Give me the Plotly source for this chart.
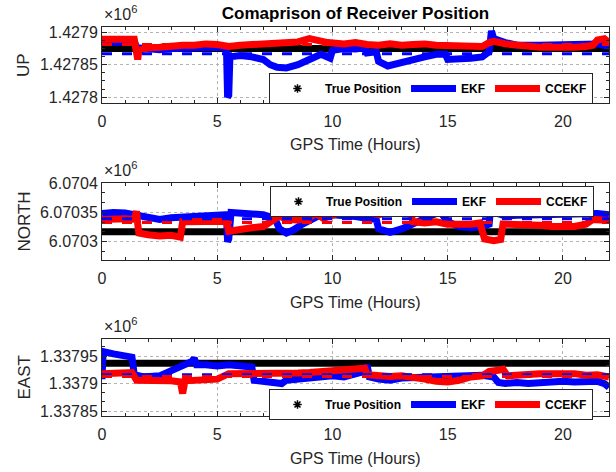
import plotly.graph_objects as go

# ---------------- data (GPS time in hours, positions in metres) ----------------
up_ekf_t = [0, 0.5, 1.0, 1.4, 1.5, 2.0, 2.5, 3.0, 3.5, 4.0, 4.5, 5.0, 5.4, 5.45, 5.5, 5.55,
            6.0, 6.5, 7.0, 7.3, 7.6, 8.0, 8.5, 9.0, 9.5, 9.9, 10.0, 10.5, 11.0, 11.4, 11.5,
            11.9, 12.0, 12.4, 12.8, 13.5, 14.0, 14.5, 14.9, 15.0, 15.5, 16.0, 16.5, 16.8,
            16.9, 17.0, 17.5, 18.0, 19.0, 20.0, 21.0, 21.5, 22.0]
up_ekf = [1427886, 1427884, 1427885, 1427886, 1427876, 1427874, 1427873, 1427875, 1427876,
          1427876, 1427877, 1427877, 1427876, 1427800, 1427803, 1427862, 1427864, 1427862,
          1427858, 1427850, 1427846, 1427845, 1427850, 1427858, 1427866, 1427860, 1427872,
          1427875, 1427874, 1427876, 1427868, 1427870, 1427855, 1427848, 1427852, 1427858,
          1427862, 1427866, 1427866, 1427858, 1427858, 1427860, 1427862, 1427870, 1427902,
          1427890, 1427884, 1427880, 1427880, 1427881, 1427880, 1427882, 1427878]

up_cc_t = [0, 0.5, 1.0, 1.4, 1.5, 1.55, 1.6, 2.0, 2.5, 3.0, 3.5, 4.0, 4.5, 5.0, 5.5, 6.0,
           6.5, 7.0, 7.5, 8.0, 8.5, 9.0, 9.3, 9.8, 10.5, 11.0, 11.5, 12.0, 12.5, 13.0, 13.5,
           14.0, 14.5, 15.0, 15.5, 16.0, 16.5, 16.8, 17.0, 17.5, 18.0, 18.5, 19.0, 19.5,
           20.0, 20.5, 21.0, 21.3, 21.5, 21.8, 22.0]
up_cc = [1427889, 1427888, 1427889, 1427889, 1427872, 1427858, 1427872, 1427876, 1427877,
         1427879, 1427880, 1427880, 1427882, 1427881, 1427878, 1427880, 1427881, 1427880,
         1427882, 1427883, 1427885, 1427890, 1427887, 1427884, 1427882, 1427884, 1427881,
         1427880, 1427882, 1427880, 1427881, 1427882, 1427880, 1427879, 1427878, 1427877,
         1427878, 1427884, 1427886, 1427882, 1427880, 1427879, 1427877, 1427877, 1427876,
         1427877, 1427878, 1427880, 1427888, 1427890, 1427884]

north_ekf_t = [0, 0.5, 1.0, 1.5, 2.0, 2.5, 3.0, 3.5, 4.0, 4.5, 5.0, 5.4, 5.45, 5.5, 5.6,
               6.0, 6.5, 7.0, 7.5, 7.7, 8.0, 8.3, 8.7, 9.0, 9.4, 9.5, 9.6, 10.0, 10.5, 11.0,
               11.5, 11.9, 12.0, 12.5, 13.0, 13.5, 14.0, 14.5, 14.6, 14.8, 15.0, 15.5, 16.0,
               16.5, 16.8, 16.85, 17.0, 17.5, 18.0, 19.0, 20.0, 21.0, 21.5, 22.0]
north_ekf = [6070348, 6070350, 6070349, 6070346, 6070341, 6070338, 6070341, 6070342,
             6070344, 6070345, 6070346, 6070346, 6070300, 6070305, 6070350, 6070349,
             6070347, 6070346, 6070340, 6070322, 6070315, 6070320, 6070330, 6070336,
             6070344, 6070352, 6070343, 6070346, 6070345, 6070343, 6070340, 6070338,
             6070322, 6070316, 6070322, 6070330, 6070338, 6070348, 6070355, 6070342,
             6070334, 6070326, 6070324, 6070326, 6070330, 6070352, 6070350, 6070344,
             6070345, 6070346, 6070345, 6070346, 6070348, 6070346]

north_cc_t = [0, 0.5, 1.0, 1.4, 1.5, 1.55, 1.6, 2.0, 2.5, 3.0, 3.4, 3.5, 4.0, 4.5, 5.0,
              5.4, 5.5, 6.0, 6.5, 7.0, 7.5, 7.7, 8.0, 8.5, 9.0, 9.3, 9.6, 10.0, 10.5, 11.0,
              11.5, 12.0, 12.5, 13.0, 13.4, 13.5, 14.0, 14.5, 15.0, 15.5, 16.0, 16.4, 16.6,
              17.0, 17.3, 17.4, 18.0, 18.5, 19.0, 19.5, 20.0, 20.5, 21.0, 21.3, 22.0]
north_cc = [6070338, 6070340, 6070339, 6070338, 6070352, 6070330, 6070315, 6070312,
            6070310, 6070311, 6070308, 6070334, 6070335, 6070336, 6070337, 6070335,
            6070318, 6070322, 6070324, 6070326, 6070340, 6070344, 6070338, 6070337,
            6070342, 6070348, 6070340, 6070346, 6070352, 6070349, 6070350, 6070346,
            6070348, 6070353, 6070346, 6070334, 6070332, 6070334, 6070330, 6070329,
            6070330, 6070332, 6070305, 6070302, 6070304, 6070330, 6070330, 6070329,
            6070328, 6070326, 6070325, 6070326, 6070330, 6070338, 6070336]

east_ekf_t = [0, 0.05, 0.5, 1.0, 1.3, 1.4, 1.8, 2.5, 3.0, 3.5, 3.9, 4.0, 4.1, 4.5, 5.0,
              5.5, 6.0, 6.5, 6.6, 7.0, 7.5, 7.8, 8.0, 8.5, 9.0, 9.5, 10.0, 10.5, 11.0,
              11.4, 11.5, 11.6, 12.0, 12.5, 13.0, 13.5, 14.0, 14.5, 15.0, 15.5, 16.0, 16.5,
              17.0, 17.2, 17.5, 18.0, 18.5, 19.0, 19.5, 20.0, 20.5, 21.0, 21.5, 21.8, 22.0]
east_ekf = [1337908, 1337958, 1337954, 1337952, 1337948, 1337916, 1337912, 1337914,
            1337924, 1337932, 1337940, 1337946, 1337934, 1337934, 1337932, 1337934,
            1337932, 1337930, 1337906, 1337904, 1337902, 1337900, 1337906, 1337908,
            1337910, 1337912, 1337914, 1337912, 1337916, 1337922, 1337934, 1337912,
            1337908, 1337906, 1337910, 1337911, 1337912, 1337914, 1337912, 1337914,
            1337916, 1337915, 1337912, 1337902, 1337900, 1337902, 1337900, 1337902,
            1337903, 1337904, 1337903, 1337904, 1337904, 1337900, 1337893]

east_cc_t = [0, 0.5, 1.0, 1.3, 1.5, 2.0, 2.5, 3.0, 3.4, 3.5, 3.6, 4.0, 4.5, 5.0, 5.5, 6.0,
             6.5, 7.0, 7.5, 8.0, 8.5, 9.0, 9.5, 10.0, 10.5, 11.0, 11.4, 11.5, 12.0, 12.5,
             13.0, 13.5, 14.0, 14.5, 15.0, 15.5, 16.0, 16.5, 16.8, 17.2, 17.4, 17.6, 18.0,
             18.5, 19.0, 19.5, 20.0, 20.5, 21.0, 21.5, 22.0]
east_cc = [1337918, 1337919, 1337918, 1337920, 1337906, 1337906, 1337907, 1337905,
           1337903, 1337882, 1337905, 1337906, 1337907, 1337908, 1337918, 1337918,
           1337916, 1337917, 1337918, 1337917, 1337919, 1337920, 1337922, 1337924,
           1337925, 1337927, 1337928, 1337916, 1337914, 1337913, 1337914, 1337912,
           1337908, 1337904, 1337903, 1337906, 1337912, 1337914, 1337922, 1337924,
           1337926, 1337914, 1337916, 1337917, 1337918, 1337918, 1337919, 1337918,
           1337915, 1337916, 1337912]

panel_names = ["UP", "NORTH", "EAST"]
true_position = [1427875, 6070317, 1337937]
ekf_mean = [1427867, 6070339, 1337916]
ccekf_mean = [1427881, 6070333, 1337913]
time_span = [0.0, 22.0]

y_tick_vals = [[1427800, 1427850, 1427900], [6070300, 6070350, 6070400],
               [1337850, 1337900, 1337950]]
y_tick_text = [["1.4278", "1.42785", "1.4279"], ["6.0703", "6.07035", "6.0704"],
               ["1.33785", "1.3379", "1.33795"]]
y_ranges = [[1427791, 1427908], [6070269, 6070400], [1337841, 1337981]]
y_minor_dtick = [12.5, 50 / 3, 50 / 3]
x_tick_vals = [0, 5, 10, 15, 20]

series_t = [(up_ekf_t, up_cc_t), (north_ekf_t, north_cc_t), (east_ekf_t, east_cc_t)]
series_v = [(up_ekf, up_cc), (north_ekf, north_cc), (east_ekf, east_cc)]

# ---------------- layout geometry (pixels -> paper) ----------------
W, H = 616, 472
x_dom = [102 / W, 609 / W]
panel_px = [(27, 103), (183, 260), (339, 416)]
legend_px = [(593, 73), (594, 186), (593, 389)]

FONT = "Liberation Sans, Arial, Helvetica, sans-serif"
AX = "#262626"

fig = go.Figure()
annotations = []
layout = dict(width=W, height=H, margin=dict(l=0, r=0, t=0, b=0, autoexpand=False),
              paper_bgcolor="white", plot_bgcolor="white", font=dict(family=FONT, color=AX),
              showlegend=True)

for i, name in enumerate(panel_names):
    sfx = "" if i == 0 else str(i + 1)
    xa, ya = "x" + sfx, "y" + sfx
    lg = "legend" + sfx
    top, bot = panel_px[i]
    dom = [1 - bot / H, 1 - top / H]

    # legend-only marker for True Position
    fig.add_trace(go.Scatter(x=[None], y=[None], mode="markers", name="True Position",
                             marker=dict(symbol="asterisk-open", size=7, color="black",
                                         line=dict(color="black", width=1.5)),
                             xaxis=xa, yaxis=ya, legend=lg))
    fig.add_trace(go.Scatter(x=time_span, y=[true_position[i]] * 2, mode="lines",
                             line=dict(color="black", width=7), showlegend=False,
                             xaxis=xa, yaxis=ya, hoverinfo="skip"))
    fig.add_trace(go.Scatter(x=series_t[i][0], y=series_v[i][0], mode="lines", name="EKF",
                             line=dict(color="#0000ff", width=7), xaxis=xa, yaxis=ya,
                             legend=lg))
    fig.add_trace(go.Scatter(x=series_t[i][1], y=series_v[i][1], mode="lines", name="CCEKF",
                             line=dict(color="#ff0000", width=7), xaxis=xa, yaxis=ya,
                             legend=lg))
    fig.add_trace(go.Scatter(x=time_span, y=[ekf_mean[i]] * 2, mode="lines",
                             line=dict(color="#0000ff", width=3, dash="10px,10px"),
                             showlegend=False, xaxis=xa, yaxis=ya))
    fig.add_trace(go.Scatter(x=time_span, y=[ccekf_mean[i]] * 2, mode="lines",
                             line=dict(color="#ff0000", width=3, dash="10px,10px"),
                             showlegend=False, xaxis=xa, yaxis=ya))

    common = dict(showline=True, linecolor=AX, linewidth=1, mirror="ticks",
                  ticks="inside", ticklen=5, tickcolor=AX, tickwidth=1, automargin=False,
                  showgrid=True, gridcolor="#b4b4b4", griddash="dot", gridwidth=1,
                  zeroline=False, tickfont=dict(family=FONT, size=16, color=AX))
    layout["xaxis" + sfx] = dict(common, domain=x_dom, anchor=ya, range=time_span,
                                 tickvals=x_tick_vals, ticklabelstandoff=4,
                                 minor=dict(dtick=1, tick0=0, ticks="inside", ticklen=3,
                                            tickcolor=AX, showgrid=False))
    layout["yaxis" + sfx] = dict(common, domain=dom, anchor=xa, range=y_ranges[i],
                                 tickvals=y_tick_vals[i], ticktext=y_tick_text[i],
                                 minor=dict(dtick=y_minor_dtick[i], tick0=y_tick_vals[i][0],
                                            ticks="inside", ticklen=3, tickcolor=AX,
                                            showgrid=False))
    lx, ly = legend_px[i]
    layout[lg] = dict(x=lx / W, y=1 - ly / H, xanchor="right", yanchor="top",
                      orientation="h", bgcolor="white", bordercolor=AX, borderwidth=1,
                      itemwidth=45, font=dict(family=FONT, size=12, color="black",
                                              weight="bold"))
    # axis titles
    annotations.append(dict(text="GPS Time (Hours)", xref="paper", yref="paper",
                            x=(x_dom[0] + x_dom[1]) / 2, y=1 - (bot + 42) / H,
                            xanchor="center", yanchor="middle", showarrow=False,
                            font=dict(family=FONT, size=16, color=AX)))
    annotations.append(dict(text=name, xref="paper", yref="paper", x=24 / W,
                            y=1 - (top + bot) / 2 / H, textangle=-90, xanchor="center",
                            yanchor="middle", showarrow=False,
                            font=dict(family=FONT, size=17, color=AX)))
    annotations.append(dict(text="\u00d710<sup>6</sup>", xref="paper", yref="paper",
                            x=x_dom[0], y=1 - (top - 2) / H, xanchor="left",
                            yanchor="bottom", showarrow=False,
                            font=dict(family=FONT, size=16, color=AX)))

layout["annotations"] = annotations
layout["title"] = dict(text="<b>Comaprison of Receiver Position</b>", x=355.5 / W,
                       xanchor="center", y=1 - 13 / H, yanchor="middle", automargin=False,
                       font=dict(family=FONT, size=17, color="black"))
fig.update_layout(**layout)
fig.write_html("out.html", config={"displayModeBar": False},
               post_script="document.body.style.margin='0';document.body.style.padding='0';")
